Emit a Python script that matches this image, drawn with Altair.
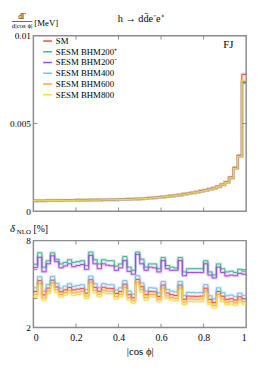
import altair as alt
import pandas as pd

FONT = "Liberation Serif"
GRAY = "#8c8c8c"

names = ["SM", "SESM BHM200⁺", "SESM BHM200⁻", "SESM BHM400", "SESM BHM600", "SESM BHM800"]
colors = ["#ee4a3f", "#3db38e", "#a545e0", "#74bde9", "#f2a93b", "#f3dc4d"]

n_bins = 50
edges = [round(i * 0.02, 2) for i in range(n_bins + 1)]

# upper panel: dGamma/d|cos phi| [MeV]
up_sm = [0.00062, 0.00062, 0.00062, 0.00063, 0.00063,
         0.00063, 0.00063, 0.00064, 0.00064, 0.00064,
         0.00065, 0.00065, 0.00065, 0.00066, 0.00066,
         0.00066, 0.00067, 0.00067, 0.00068, 0.00068,
         0.00069, 0.00069, 0.00070, 0.00071, 0.00072,
         0.00073, 0.00075, 0.00077, 0.00079, 0.00081,
         0.00084, 0.00086, 0.00089, 0.00092, 0.00095,
         0.00099, 0.00103, 0.00107, 0.00112, 0.00117,
         0.00122, 0.00128, 0.00135, 0.00143, 0.00154,
         0.00168, 0.00195, 0.00250, 0.00320, 0.00780]
up_bsm = [0.000605, 0.000605, 0.000605, 0.000615, 0.000615,
          0.000615, 0.000615, 0.000625, 0.000625, 0.000625,
          0.000635, 0.000635, 0.000635, 0.000645, 0.000645,
          0.000645, 0.000655, 0.000655, 0.000665, 0.000665,
          0.000675, 0.000675, 0.000685, 0.000695, 0.000705,
          0.000715, 0.000735, 0.000755, 0.000775, 0.000795,
          0.000820, 0.000840, 0.000870, 0.000900, 0.000930,
          0.000970, 0.001010, 0.001050, 0.001095, 0.001145,
          0.001195, 0.001255, 0.001320, 0.001400, 0.001510,
          0.001650, 0.001910, 0.002450, 0.003130]
up_last = [0.00735, 0.00735, 0.00728, 0.00742, 0.00748]

# lower panel: delta_NLO [%]
d_200p = [6.37, 7.16, 6.17, 6.61, 7.16, 6.72, 6.39, 6.50, 6.68, 6.50,
          6.55, 6.61, 6.28, 7.21, 6.68, 6.39, 6.68, 6.61, 6.61, 6.24,
          6.39, 6.90, 6.17, 5.95, 7.21, 6.72, 6.17, 6.39, 6.39, 6.06,
          6.83, 6.28, 6.17, 6.11, 6.83, 5.84, 6.06, 6.06, 6.06, 6.06,
          6.61, 5.84, 5.63, 6.39, 6.06, 5.84, 5.89, 5.80, 6.02, 5.89]
d_200m = [6.15, 6.85, 5.85, 6.40, 6.95, 6.55, 6.12, 6.25, 6.40, 6.20,
          6.28, 6.35, 6.02, 6.98, 6.40, 6.06, 6.40, 6.30, 6.26, 5.95,
          6.12, 6.62, 5.88, 5.68, 7.05, 6.40, 5.95, 6.17, 6.12, 5.84,
          6.62, 6.06, 5.95, 5.95, 6.62, 5.58, 5.80, 5.80, 5.80, 5.80,
          6.40, 5.62, 5.42, 6.17, 5.80, 5.56, 5.62, 5.58, 5.74, 5.68]
d_400 = [4.74, 5.50, 4.50, 4.97, 5.52, 5.05, 4.72, 4.86, 5.02, 4.84,
         4.90, 4.95, 4.62, 5.55, 5.02, 4.75, 5.03, 4.96, 4.95, 4.60,
         4.74, 5.24, 4.52, 4.30, 5.57, 5.07, 4.52, 4.74, 4.72, 4.40,
         5.18, 4.63, 4.52, 4.46, 5.18, 4.20, 4.42, 4.41, 4.40, 4.42,
         4.96, 4.19, 3.98, 4.74, 4.41, 4.19, 4.24, 4.15, 4.37, 4.23]
d_sm = [4.49, 5.24, 4.26, 4.72, 5.27, 4.80, 4.47, 4.60, 4.77, 4.60,
        4.65, 4.70, 4.37, 5.30, 4.77, 4.50, 4.78, 4.71, 4.70, 4.35,
        4.49, 4.99, 4.27, 4.05, 5.32, 4.82, 4.27, 4.49, 4.47, 4.15,
        4.93, 4.38, 4.27, 4.21, 4.93, 3.95, 4.17, 4.16, 4.15, 4.17,
        4.71, 3.94, 3.73, 4.49, 4.16, 3.94, 3.99, 3.90, 4.12, 3.98]
d_600 = [4.29, 5.05, 4.05, 4.52, 5.07, 4.60, 4.27, 4.41, 4.57, 4.39,
         4.45, 4.50, 4.17, 5.10, 4.57, 4.30, 4.58, 4.51, 4.50, 4.15,
         4.29, 4.79, 4.07, 3.85, 5.12, 4.62, 4.07, 4.29, 4.27, 3.95,
         4.73, 4.18, 4.07, 4.01, 4.73, 3.75, 3.97, 3.96, 3.95, 3.97,
         4.51, 3.74, 3.53, 4.29, 3.96, 3.74, 3.79, 3.70, 3.92, 3.78]
d_800 = [4.12, 4.88, 3.88, 4.35, 4.90, 4.43, 4.10, 4.24, 4.40, 4.22,
         4.28, 4.33, 4.00, 4.93, 4.40, 4.13, 4.41, 4.34, 4.33, 3.98,
         4.12, 4.62, 3.90, 3.68, 4.95, 4.45, 3.90, 4.12, 4.10, 3.78,
         4.56, 4.01, 3.90, 3.84, 4.56, 3.58, 3.80, 3.79, 3.78, 3.80,
         4.34, 3.57, 3.36, 4.12, 3.79, 3.57, 3.62, 3.53, 3.75, 3.61]

x_ticks = [0.2, 0.4, 0.6, 0.8]
x_labels = [0, 0.2, 0.4, 0.6, 0.8, 1]
up_yticks = [0.005]
up_ylabels = [0, 0.005, 0.01]
lo_yticks = [4, 6]
lo_ylabels = [2, 4, 6, 8]


def step_rows(name, vals):
    rows = [{"series": name, "x": edges[i], "y": v} for i, v in enumerate(vals)]
    rows.append({"series": name, "x": edges[-1], "y": vals[-1]})
    return rows


up_rows = step_rows(names[0], up_sm)
for nm, last in zip(names[1:], up_last):
    up_rows += step_rows(nm, up_bsm + [last])
df_up = pd.DataFrame(up_rows)

lo_rows = []
for nm, vals in zip(names, [d_sm, d_200p, d_200m, d_400, d_600, d_800]):
    lo_rows += step_rows(nm, vals)
df_lo = pd.DataFrame(lo_rows)

W, H1, H2 = 218, 180, 89
xs = alt.Scale(domain=[0, 1], nice=False, padding=0, zero=False)
ys1 = alt.Scale(domain=[0, 0.01], nice=False)
ys2 = alt.Scale(domain=[2, 8], nice=False, zero=False)
cscale = alt.Scale(domain=names, range=colors)

legend = alt.Legend(orient="none", legendX=9, legendY=0, title=None,
                    symbolType="stroke", symbolSize=81, symbolStrokeWidth=1.5,
                    symbolOpacity=1, labelFont=FONT, labelFontSize=9, rowPadding=0,
                    padding=0, labelOffset=3, labelColor="black")


def yaxis(vals):
    return alt.Axis(values=vals, format="~g", title=None, ticks=False, domain=False,
                    grid=False, labelFont=FONT, labelFontSize=9.5, labelColor="black",
                    labelPadding=3, minExtent=24, maxExtent=24)


def ticks_layers(ys, ytick_vals, h):
    tx = pd.DataFrame({"x": x_ticks})
    ty = pd.DataFrame({"y": ytick_vals})
    return [
        alt.Chart(tx).mark_rule(color=GRAY, strokeWidth=1).encode(
            x=alt.X("x:Q", scale=xs), y=alt.value(h - 4), y2=alt.value(h)),
        alt.Chart(tx).mark_rule(color=GRAY, strokeWidth=1).encode(
            x=alt.X("x:Q", scale=xs), y=alt.value(0), y2=alt.value(4)),
        alt.Chart(ty).mark_rule(color=GRAY, strokeWidth=1).encode(
            y=alt.Y("y:Q", scale=ys), x=alt.value(0), x2=alt.value(4)),
        alt.Chart(ty).mark_rule(color=GRAY, strokeWidth=1).encode(
            y=alt.Y("y:Q", scale=ys), x=alt.value(W - 4), x2=alt.value(W)),
    ]


def text_layer(txt, x, y, size, align="left", style="normal"):
    return alt.Chart(pd.DataFrame({"t": [txt]})).mark_text(
        font=FONT, fontSize=size, align=align, baseline="alphabetic",
        color="black", fontStyle=style).encode(
        x=alt.value(x), y=alt.value(y), text="t:N")


up_halo = alt.Chart(df_up).mark_line(interpolate="step-after", strokeWidth=3, opacity=0.25).encode(
    x=alt.X("x:Q", scale=xs, axis=None),
    y=alt.Y("y:Q", scale=ys1, axis=yaxis(up_ylabels)),
    color=alt.Color("series:N", scale=cscale, legend=legend, sort=names))
up_line = alt.Chart(df_up).mark_line(interpolate="step-after", strokeWidth=1).encode(
    x=alt.X("x:Q", scale=xs),
    y=alt.Y("y:Q", scale=ys1),
    color=alt.Color("series:N", scale=cscale, sort=names))

frac_bar = alt.Chart(pd.DataFrame({"a": [0]})).mark_rule(color="black", strokeWidth=0.6).encode(
    x=alt.value(-22), x2=alt.value(-1), y=alt.value(-14.5))

upper = alt.layer(
    up_halo, up_line, *ticks_layers(ys1, up_yticks, H1),
    text_layer("dΓ", -11.5, -17, 7.5, align="center"),
    frac_bar,
    text_layer("d|cos ϕ|", -11.5, -7.5, 7, align="center"),
    text_layer("[MeV]", 1, -10, 9),
    text_layer("h → dd̄e⁻e⁺", 110, -14, 10.5, align="center"),
    text_layer("FJ", W - 13, 13, 11, align="right"),
).properties(width=W, height=H1)

lo_halo = alt.Chart(df_lo).mark_line(interpolate="step-after", strokeWidth=3, opacity=0.25).encode(
    x=alt.X("x:Q", scale=xs,
            axis=alt.Axis(values=x_labels, format="~g", title="|cos ϕ|", ticks=False,
                          domain=False, grid=False, labelFont=FONT, labelFontSize=10,
                          labelColor="black", labelPadding=5, titleFont=FONT,
                          titleFontSize=11, titleFontWeight="normal", titleColor="black",
                          titlePadding=4)),
    y=alt.Y("y:Q", scale=ys2, axis=yaxis(lo_ylabels)),
    color=alt.Color("series:N", scale=cscale, legend=None),
    detail="series:N")
lo_line = alt.Chart(df_lo).mark_line(interpolate="step-after", strokeWidth=1).encode(
    x=alt.X("x:Q", scale=xs),
    y=alt.Y("y:Q", scale=ys2),
    color=alt.Color("series:N", scale=cscale, legend=None))

lower = alt.layer(
    lo_halo, lo_line, *ticks_layers(ys2, lo_yticks, H2),
    text_layer("δ", -24, -9, 11, style="italic"),
    text_layer("NLO", -17, -6.5, 7),
    text_layer("[%]", 0, -9, 10),
).properties(width=W, height=H2)

chart = alt.vconcat(upper, lower, spacing=5).resolve_scale(color="independent").properties(
    padding={"left": 0, "top": 0, "right": 0, "bottom": 0}
).configure_view(stroke=GRAY, strokeWidth=1.5)

chart.save("out.html", embed_options={"renderer": "svg", "actions": False})
